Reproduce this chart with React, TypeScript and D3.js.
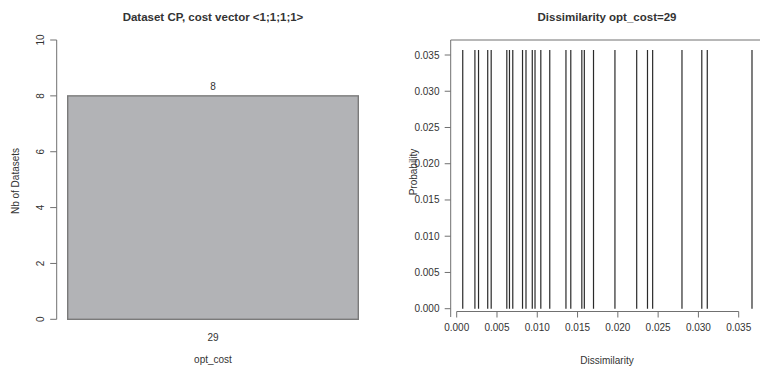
import React from "react";
import * as d3 from "d3";

// ---- data ----
const costCategories: string[] = ["29"];
const datasetCounts: number[] = [8];
const leftYTicks: number[] = [0, 2, 4, 6, 8, 10];

const dissimilarity: number[] = [
  0.00075, 0.00226, 0.00271, 0.00385, 0.00428, 0.00622, 0.00655, 0.00696,
  0.00817, 0.0086, 0.00938, 0.00972, 0.01044, 0.01155, 0.01356, 0.01416,
  0.01553, 0.01584, 0.01698, 0.01964, 0.02234, 0.02368, 0.02432, 0.02796,
  0.03042, 0.0311, 0.03665, 0.038,
];
const probability: number[] = [
  0.0357, 0.0357, 0.0357, 0.0357, 0.0357, 0.0357, 0.0357, 0.0357,
  0.0357, 0.0357, 0.0357, 0.0357, 0.0357, 0.0357, 0.0357, 0.0357,
  0.0357, 0.0357, 0.0357, 0.0357, 0.0357, 0.0357, 0.0357, 0.0357,
  0.0357, 0.0357, 0.0357, 0.0357,
];
const rightXTicks: number[] = [0, 0.005, 0.01, 0.015, 0.02, 0.025, 0.03, 0.035];
const rightYTicks: number[] = [0, 0.005, 0.01, 0.015, 0.02, 0.025, 0.03, 0.035];

const FONT = "'Liberation Sans', Arial, Helvetica, sans-serif";
const TXT = "#333";
const AX = "#707070";

export default function App() {
  // left chart scales
  const yL = d3.scaleLinear().domain([0, 10]).range([319.3, 40]);
  const xL = d3.scaleBand<string>().domain(costCategories).range([67.7, 358.3]).padding(0);
  const leftAxisX = 56.7;

  // right chart scales
  const xR = d3.scaleLinear().domain([0, 0.035]).range([456.7, 738.7]);
  const yR = d3.scaleLinear().domain([0, 0.035]).range([308.7, 55]);
  const boxL = 450.7;
  const boxT = 40;
  const xAxisY = 311.5;
  const fmt = d3.format(".3f");

  return (
    <svg
      width={760}
      height={367}
      style={{ position: "absolute", left: 0, top: 0, background: "#fff" }}
      fontFamily={FONT}
    >
      {/* ---------- LEFT CHART ---------- */}
      <text x={213} y={21} textAnchor="middle" fontSize={11.5} fontWeight="bold" fill={TXT}>
        Dataset CP, cost vector &lt;1;1;1;1&gt;
      </text>
      {costCategories.map((c, i) => (
        <g key={c}>
          <rect
            x={xL(c)!}
            y={yL(datasetCounts[i])}
            width={xL.bandwidth()}
            height={yL(0) - yL(datasetCounts[i])}
            fill="#b2b3b6"
            stroke="#7a7a7a"
            strokeWidth={1.4}
          />
          <text
            x={xL(c)! + xL.bandwidth() / 2}
            y={yL(datasetCounts[i]) - 5.5}
            textAnchor="middle"
            fontSize={10}
            fill={TXT}
          >
            {datasetCounts[i]}
          </text>
          <text x={xL(c)! + xL.bandwidth() / 2} y={340.5} textAnchor="middle" fontSize={10} fill={TXT}>
            {c}
          </text>
        </g>
      ))}
      <line x1={leftAxisX} x2={leftAxisX} y1={yL(0)} y2={yL(10)} stroke={AX} strokeWidth={1} />
      {leftYTicks.map((t) => (
        <g key={t}>
          <line x1={leftAxisX - 6.5} x2={leftAxisX} y1={yL(t)} y2={yL(t)} stroke={AX} strokeWidth={1} />
          <text
            transform={`translate(43.5,${yL(t)}) rotate(-90)`}
            textAnchor="middle"
            fontSize={10}
            fill={TXT}
          >
            {t}
          </text>
        </g>
      ))}
      <text transform="translate(18.5,181) rotate(-90)" textAnchor="middle" fontSize={10} fill={TXT}>
        Nb of Datasets
      </text>
      <text x={213} y={363} textAnchor="middle" fontSize={10} fill={TXT}>
        opt_cost
      </text>

      {/* ---------- RIGHT CHART ---------- */}
      <text x={607} y={21} textAnchor="middle" fontSize={11.5} fontWeight="bold" fill={TXT}>
        Dissimilarity opt_cost=29
      </text>
      <line x1={boxL} x2={boxL} y1={boxT} y2={317} stroke={AX} strokeWidth={1} />
      <line x1={boxL} x2={780} y1={boxT} y2={boxT} stroke={AX} strokeWidth={1} />
      {dissimilarity.map((d, i) => (
        <line
          key={i}
          x1={xR(d)}
          x2={xR(d)}
          y1={yR(0)}
          y2={yR(probability[i])}
          stroke="#2a2a2a"
          strokeWidth={1.2}
        />
      ))}
      {rightYTicks.map((t) => (
        <g key={t}>
          <line x1={boxL - 6} x2={boxL} y1={yR(t)} y2={yR(t)} stroke={AX} strokeWidth={1} />
          <text x={439.5} y={yR(t) + 3.5} textAnchor="end" fontSize={10} fill={TXT}>
            {fmt(t)}
          </text>
        </g>
      ))}
      <line x1={xR(0)} x2={xR(0.035)} y1={xAxisY} y2={xAxisY} stroke={AX} strokeWidth={1} />
      {rightXTicks.map((t) => (
        <g key={t}>
          <line x1={xR(t)} x2={xR(t)} y1={xAxisY} y2={xAxisY + 6} stroke={AX} strokeWidth={1} />
          <text x={xR(t)} y={331} textAnchor="middle" fontSize={10} fill={TXT}>
            {fmt(t)}
          </text>
        </g>
      ))}
      <text transform="translate(416.5,172) rotate(-90)" textAnchor="middle" fontSize={10} fill={TXT}>
        Probability
      </text>
      <text x={607} y={363.5} textAnchor="middle" fontSize={10} fill={TXT}>
        Dissimilarity
      </text>
    </svg>
  );
}
